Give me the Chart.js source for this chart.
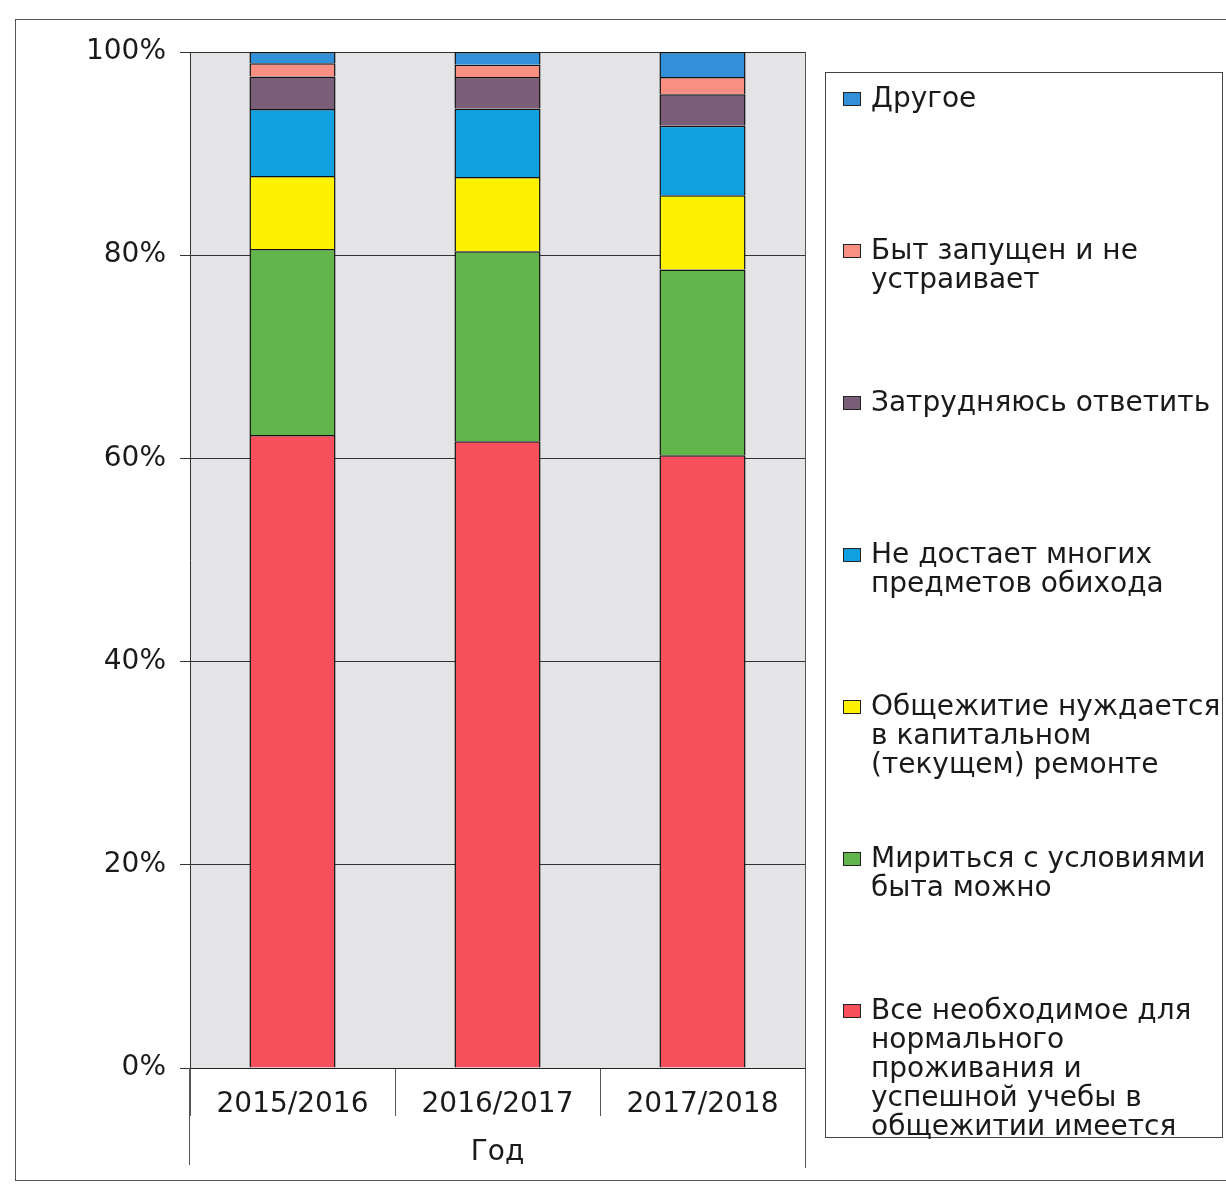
<!DOCTYPE html>
<html>
<head>
<meta charset="utf-8">
<script src="https://cdn.jsdelivr.net/npm/chart.js@4/dist/chart.umd.min.js"></script>
<style>
  html, body { margin: 0; padding: 0; background: #fff; }
  #wrap { position: relative; width: 1226px; height: 1184px; overflow: hidden; }
  #frame { position: absolute; left: 15px; top: 19px; width: 1230px; height: 1162px; border: 1px solid #555; box-sizing: border-box; }
  canvas { position: absolute; left: 0; top: 0; }
  #legend { position: absolute; left: 825px; top: 72px; width: 398px; height: 1066px; border: 1px solid #444;
            box-sizing: border-box; background: #fff; padding-top: 10px;
            font-family: "DejaVu Sans", sans-serif; font-size: 28px; line-height: 29px; color: #1a1a1a; }
  .item { height: 152px; position: relative; padding-left: 45px; white-space: pre-line; }
  .box { position: absolute; left: 17px; top: 9px; width: 16px; height: 12px; border: 1px solid #222; }
</style>
</head>
<body>
<div id="wrap">
  <div id="frame"></div>
  <canvas id="chart" width="1226" height="1184"></canvas>
  <div id="legend"></div>
</div>
<script>
const categories = ['2015/2016', '2016/2017', '2017/2018'];

// stacked from bottom to top, percent of respondents
const valAll = [62.3, 61.7, 60.3];
const valTolerate = [18.3, 18.7, 18.3];
const valRepair = [7.2, 7.3, 7.3];
const valLacking = [6.6, 6.75, 6.85];
const valHard = [3.2, 3.1, 3.1];
const valNeglected = [1.3, 1.2, 1.7];
const valOther = [1.1, 1.25, 2.45];

const seriesLabels = [
    'Все необходимое для\nнормального\nпроживания  и\nуспешной учебы в\nобщежитии имеется',
    'Мириться с условиями\nбыта можно',
    'Общежитие нуждается\nв капитальном\n(текущем) ремонте',
    'Не достает многих\nпредметов обихода',
    'Затрудняюсь ответить',
    'Быт запущен и не\nустраивает',
    'Другое'
];
const seriesValues = [valAll, valTolerate, valRepair, valLacking, valHard, valNeglected, valOther];
const seriesColors = ['#f7505c', '#62b54b', '#fff200', '#10a0e0', '#7a5d76', '#f98f83', '#3190d8'];

const yTicks = [0, 20, 40, 60, 80, 100];

const FONT = { family: '"DejaVu Sans", sans-serif', size: 28 };
const TEXT = '#1a1a1a';

const plotBox = {
    id: 'plotBox',
    beforeDraw(chart) {
        const { ctx, chartArea: a } = chart;
        ctx.save();
        ctx.fillStyle = '#e4e4e7';
        ctx.fillRect(a.left, a.top, a.right - a.left, a.bottom - a.top);
        ctx.restore();
    },
    afterDraw(chart) {
        const { ctx, chartArea: a } = chart;
        ctx.save();
        ctx.strokeStyle = '#555';
        ctx.lineWidth = 1;
        ctx.beginPath();
        ctx.moveTo(a.right + 0.5, a.top);
        ctx.lineTo(a.right + 0.5, 1168);
        ctx.moveTo(a.left - 0.5, a.bottom);
        ctx.lineTo(a.left - 0.5, 1165);
        ctx.stroke();
        ctx.restore();
    }
};

const ctx = document.getElementById('chart').getContext('2d');
const chart = new Chart(ctx, {
    type: 'bar',
    data: {
        labels: categories,
        datasets: seriesValues.map((data, i) => ({
            label: seriesLabels[i],
            data,
            backgroundColor: seriesColors[i],
            borderColor: '#111',
            borderWidth: 1.5,
            categoryPercentage: 1,
            barPercentage: 0.42
        }))
    },
    options: {
        responsive: false,
        animation: false,
        layout: { padding: { top: 52, right: 421, bottom: 0, left: 0 } },
        plugins: {
            legend: { display: false },
            tooltip: { enabled: false }
        },
        scales: {
            x: {
                stacked: true,
                offset: true,
                afterFit(scale) { scale.height = 116; },
                grid: { offset: true, drawOnChartArea: false, tickLength: 48, color: '#555' },
                border: { color: '#222' },
                ticks: { font: FONT, color: TEXT, padding: -28 },
                title: { display: true, text: 'Год', font: FONT, color: TEXT, padding: { top: 0, bottom: 14 } }
            },
            y: {
                stacked: true,
                min: 0,
                max: 100,
                afterFit(scale) { scale.width = 190; },
                afterBuildTicks(scale) { scale.ticks = yTicks.map(v => ({ value: v })); },
                grid: { color: '#333', tickLength: 10 },
                border: { color: '#333' },
                ticks: { font: FONT, color: TEXT, padding: 14, callback: v => v + '%' }
            }
        }
    },
    plugins: [plotBox]
});

const legendEl = document.getElementById('legend');
chart.data.datasets.slice().reverse().forEach(ds => {
    const item = document.createElement('div');
    item.className = 'item';
    const box = document.createElement('span');
    box.className = 'box';
    box.style.background = ds.backgroundColor;
    item.appendChild(box);
    item.appendChild(document.createTextNode(ds.label));
    legendEl.appendChild(item);
});
</script>
</body>
</html>
